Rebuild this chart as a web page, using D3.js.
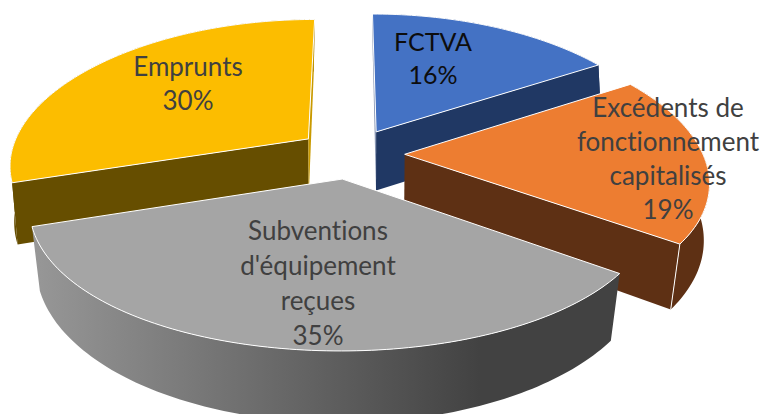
<!DOCTYPE html>
<html>
<head>
<meta charset="utf-8">
<script src="https://cdn.jsdelivr.net/npm/d3@7"></script>
<style>
  html, body { margin: 0; padding: 0; background: #fff; overflow: hidden; }
  svg { display: block; }
</style>
</head>
<body>
<svg id="chart"></svg>
<script>
const categories = ['FCTVA', 'Excédents de fonctionnement capitalisés', "Subventions d'équipement reçues", 'Emprunts'];
const values = [16, 19, 35, 30];
const labelLines = [
  ['FCTVA', '16%'],
  ['Excédents de', 'fonctionnement', 'capitalisés', '19%'],
  ['Subventions', "d'équipement", 'reçues', '35%'],
  ['Emprunts', '30%']
];
const topColors = ['#4472c4', '#ed7d31', '#a5a5a5', '#fcbd00'];
const wallColors = ['#203864', '#5e3014', 'url(#grayWall)', '#664e00'];
// cut faces of each slice, null when it faces away from us
const startCutColors = ['#8a98b5', null, null, '#664e00'];
const endCutColors = ['#203864', '#5e3014', null, '#c99a00'];
const labelColors = ['#0d0d0d', '#404040', '#404040', '#404040'];
const labelCenters = [[433, 51], [668, 117], [318, 240], [188, 76]];
const labelPitch = [33, 34, 35, 34];
const labelSizes = [25, 26, 26, 26];

const width = 763;
const height = 414;

// ground plane -> screen, with a bit of perspective
const view = { cx: 351, cy: 153.5, rx: 298, ry: 140, perspX: 0.175, perspY: 0.14, thick: 60, explode: 0.18 };

const project = (gx, gz, low) => {
  const sx = 1 / (1 + view.perspX * gz);
  const sy = 1 / (1 + view.perspY * gz);
  const x = view.rx * gx * sx;
  const y = -view.ry * gz * sy;
  if (!low) return [view.cx + x, view.cy + y];
  // the bottom rim sits further from the eye, nearer points pull in more
  const shrink = 0.99 + 0.03 * gz;
  return [view.cx + x * shrink, view.cy + y + view.thick * sy];
};

const svg = d3.select('#chart').attr('width', width).attr('height', height);

const grad = svg.append('defs').append('linearGradient')
  .attr('id', 'grayWall')
  .attr('gradientUnits', 'userSpaceOnUse')
  .attr('x1', 35).attr('x2', 480).attr('y1', 0).attr('y2', 0);
grad.append('stop').attr('offset', 0).attr('stop-color', '#979797');
grad.append('stop').attr('offset', 1).attr('stop-color', '#424242');

const line = d3.line();
const pie = d3.pie().sort(null).startAngle(0).endAngle(2 * Math.PI);
const arcs = pie(values);

const ringAngles = (a0, a1) => {
  const n = Math.ceil((a1 - a0) / 0.02);
  return d3.range(n + 1).map(i => a0 + (a1 - a0) * i / n);
};

// one slice: its offset on the ground, then faces built from the pie angles
const faces = arcs.map(d => {
  const mid = (d.startAngle + d.endAngle) / 2;
  const ox = view.explode * Math.sin(mid);
  const oz = view.explode * Math.cos(mid);
  const rim = (a, low) => project(ox + Math.sin(a), oz + Math.cos(a), low);
  const apex = low => project(ox, oz, low);
  const ring = ringAngles(d.startAngle, d.endAngle);
  return {
    top: [apex(false), ...ring.map(a => rim(a, false))],
    outer: [...ring.map(a => rim(a, false)), ...ring.slice().reverse().map(a => rim(a, true))],
    startCut: [apex(false), rim(d.startAngle, false), rim(d.startAngle, true), apex(true)],
    endCut: [apex(false), rim(d.endAngle, false), rim(d.endAngle, true), apex(true)]
  };
});

// back to front
const drawOrder = [0, 3, 1, 2];

drawOrder.forEach(i => {
  const f = faces[i];
  const g = svg.append('g').attr('class', 'slice').attr('data-name', categories[i]);
  g.append('path').attr('d', line(f.outer) + 'Z').attr('fill', wallColors[i]);
  if (startCutColors[i]) g.append('path').attr('d', line(f.startCut) + 'Z').attr('fill', startCutColors[i]);
  if (endCutColors[i]) g.append('path').attr('d', line(f.endCut) + 'Z').attr('fill', endCutColors[i]);
  if (i === 1) {
    // edge between the cut face and the rounded side
    g.append('path').attr('d', line(f.endCut.slice(1, 3)))
      .attr('stroke', '#fff').attr('stroke-width', 1).attr('fill', 'none');
  }
  g.append('path').attr('d', line(f.top) + 'Z')
    .attr('fill', topColors[i])
    .attr('stroke', '#fff').attr('stroke-width', 1).attr('stroke-linejoin', 'round');
});

labelLines.forEach((lines, i) => {
  const t = svg.append('text')
    .attr('text-anchor', 'middle')
    .attr('font-family', 'Lato, "Open Sans", sans-serif')
    .attr('font-size', labelSizes[i])
    .style('font-variant-ligatures', 'none')
    .attr('fill', labelColors[i]);
  lines.forEach((s, j) => {
    t.append('tspan')
      .attr('x', labelCenters[i][0])
      .attr('y', labelCenters[i][1] + j * labelPitch[i])
      .text(s);
  });
});
</script>
</body>
</html>
